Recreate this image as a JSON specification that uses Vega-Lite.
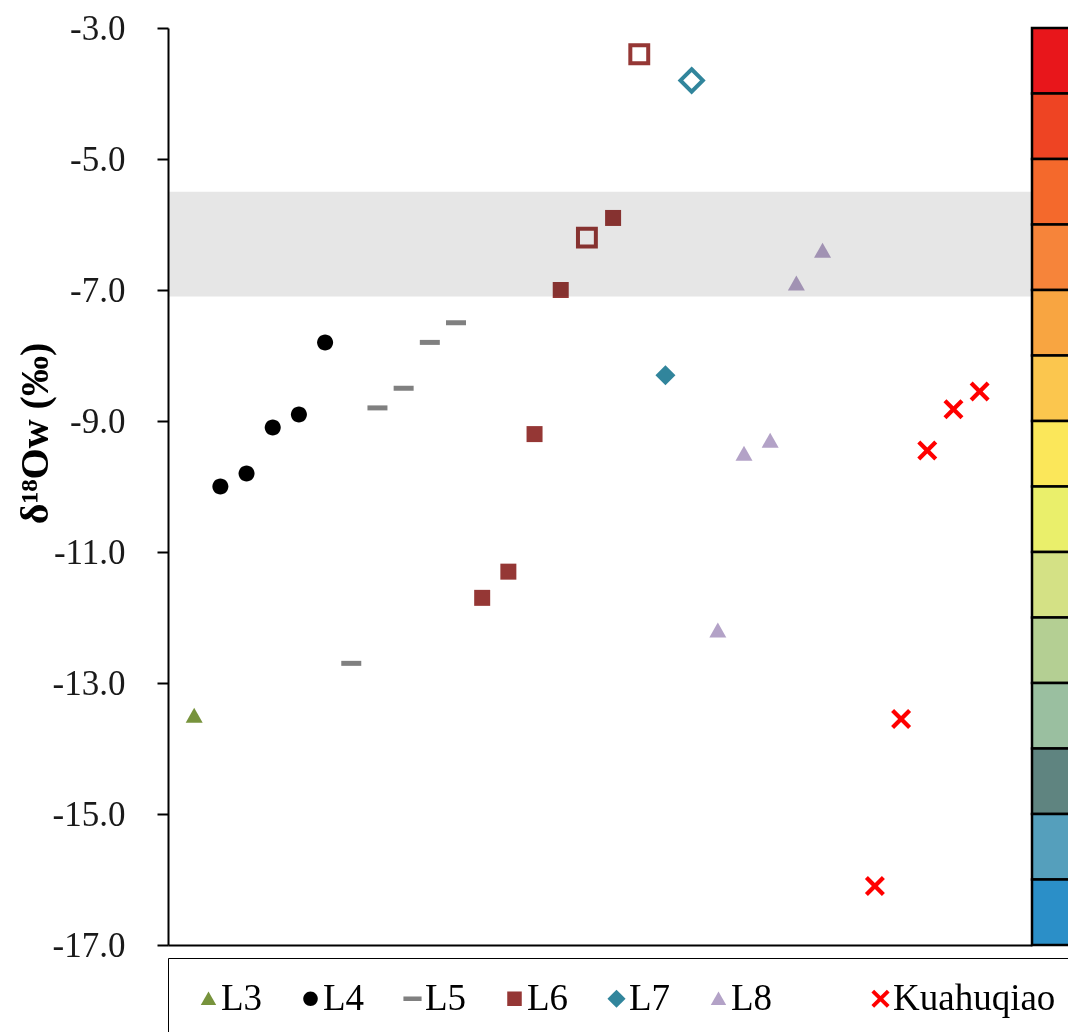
{
  "$schema": "https://vega.github.io/schema/vega-lite/v6.json",
  "autosize": {"type": "none"},
  "padding": {"left": 168, "top": 28, "right": 36, "bottom": 87},
  "width": 864,
  "height": 917,
  "background": "white",
  "config": {"view": {"stroke": null}, "font": "Liberation Serif"},
  "datasets": {
    "pts": [
      {"i": 1, "v": -13.5, "s": "L3", "hollow": false},
      {"i": 2, "v": -10.0, "s": "L4", "hollow": false},
      {"i": 3, "v": -9.8, "s": "L4", "hollow": false},
      {"i": 4, "v": -9.1, "s": "L4", "hollow": false},
      {"i": 5, "v": -8.9, "s": "L4", "hollow": false},
      {"i": 6, "v": -7.8, "s": "L4", "hollow": false},
      {"i": 7, "v": -12.7, "s": "L5", "hollow": false},
      {"i": 8, "v": -8.8, "s": "L5", "hollow": false},
      {"i": 9, "v": -8.5, "s": "L5", "hollow": false},
      {"i": 10, "v": -7.8, "s": "L5", "hollow": false},
      {"i": 11, "v": -7.5, "s": "L5", "hollow": false},
      {"i": 12, "v": -11.7, "s": "L6", "hollow": false},
      {"i": 13, "v": -11.3, "s": "L6", "hollow": false},
      {"i": 14, "v": -9.2, "s": "L6", "hollow": false},
      {"i": 15, "v": -7.0, "s": "L6", "hollow": false},
      {"i": 16, "v": -6.2, "s": "L6", "hollow": true},
      {"i": 17, "v": -5.9, "s": "L6", "hollow": false},
      {"i": 18, "v": -3.4, "s": "L6", "hollow": true},
      {"i": 19, "v": -8.3, "s": "L7", "hollow": false},
      {"i": 20, "v": -3.8, "s": "L7", "hollow": true},
      {"i": 21, "v": -12.2, "s": "L8", "hollow": false},
      {"i": 22, "v": -9.5, "s": "L8", "hollow": false},
      {"i": 23, "v": -9.3, "s": "L8", "hollow": false},
      {"i": 24, "v": -6.9, "s": "L8", "hollow": false},
      {"i": 25, "v": -6.4, "s": "L8", "hollow": false},
      {"i": 27, "v": -16.1, "s": "Kuahuqiao", "hollow": false},
      {"i": 28, "v": -13.55, "s": "Kuahuqiao", "hollow": false},
      {"i": 29, "v": -9.45, "s": "Kuahuqiao", "hollow": false},
      {"i": 30, "v": -8.82, "s": "Kuahuqiao", "hollow": false},
      {"i": 31, "v": -8.55, "s": "Kuahuqiao", "hollow": false}
    ],
    "bands": [
      {"b": 1, "top": -3, "bot": -4},
      {"b": 2, "top": -4, "bot": -5},
      {"b": 3, "top": -5, "bot": -6},
      {"b": 4, "top": -6, "bot": -7},
      {"b": 5, "top": -7, "bot": -8},
      {"b": 6, "top": -8, "bot": -9},
      {"b": 7, "top": -9, "bot": -10},
      {"b": 8, "top": -10, "bot": -11},
      {"b": 9, "top": -11, "bot": -12},
      {"b": 10, "top": -12, "bot": -13},
      {"b": 11, "top": -13, "bot": -14},
      {"b": 12, "top": -14, "bot": -15},
      {"b": 13, "top": -15, "bot": -16},
      {"b": 14, "top": -16, "bot": -17}
    ],
    "range": [{"hi": -5.5, "lo": -7.1}]
  },
  "layer": [
    {
      "data": {"name": "bands"},
      "mark": {"type": "rect", "stroke": "black", "strokeWidth": 2.5, "clip": false},
      "encoding": {
        "x": {"datum": 33, "type": "quantitative", "scale": {"domain": [0, 33], "nice": false, "zero": false}, "axis": {"labels": false, "ticks": false, "title": null, "grid": false, "domainColor": "black", "domainWidth": 2}},
        "x2": {"datum": 36},
        "y": {"field": "top", "type": "quantitative", "scale": {"domain": [-17, -3], "nice": false, "zero": false}},
        "y2": {"field": "bot"},
        "fill": {"field": "b", "type": "ordinal", "legend": null, "scale": {"range": ["#E8161B", "#EE4423", "#F4692C", "#F6843A", "#F8A541", "#FBC64E", "#FBE75A", "#EAEF6B", "#D4E185", "#B4CF93", "#9ABFA0", "#5F8480", "#559FBC", "#2B8FC8"]}}
      }
    },
    {
      "data": {"name": "pts"},
      "transform": [{"filter": "!datum.hollow"}],
      "mark": {"type": "point", "filled": true, "opacity": 1, "size": 400, "strokeWidth": 0},
      "encoding": {
        "x": {"field": "i", "type": "quantitative", "scale": {"domain": [0, 33], "nice": false, "zero": false}},
        "y": {"field": "v", "type": "quantitative", "scale": {"domain": [-17, -3], "nice": false, "zero": false},
          "axis": {"values": [-3, -5, -7, -9, -11, -13, -15, -17], "labelExpr": "replace(format(datum.value, '.1f'), '\u2212', '-')", "labelFont": "Liberation Serif", "labelFontSize": 35, "labelColor": "#1a1a1a", "labelPadding": 32, "tickSize": 11, "tickColor": "black", "tickWidth": 2, "domainColor": "black", "domainWidth": 2, "grid": false,
            "title": "δ¹⁸Oᴡ (‰)", "titleFont": "Liberation Serif", "titleFontSize": 40, "titleFontWeight": "bold", "titleColor": "black", "titleX": -133, "titleY": 405, "titleAngle": -90, "titleAlign": "center", "titleBaseline": "middle"}},
        "color": {"field": "s", "type": "nominal",
          "scale": {"domain": ["L3", "L4", "L5", "L6", "L7", "L8", "gap", "Kuahuqiao"], "range": ["#77933C", "#000000", "#808080", "#953735", "#31859C", "#B3A2C7", "rgba(0,0,0,0)", "#FF0000"]},
          "legend": {"orient": "none", "legendX": 0, "legendY": 930, "direction": "horizontal", "columns": 8, "title": null,
            "labelExpr": "datum.value === 'gap' ? '' : datum.label",
            "strokeColor": "black", "padding": 22, "symbolSize": 330, "symbolStrokeWidth": 0, "labelFont": "Liberation Serif", "labelFontSize": 37, "labelColor": "black", "labelOffset": -6, "labelLimit": 400, "columnPadding": 29}},
        "shape": {"field": "s", "type": "nominal",
          "scale": {"domain": ["L3", "L4", "L5", "L6", "L7", "L8", "gap", "Kuahuqiao"], "range": [
            "M0,-0.8L0.85,0.7L-0.85,0.7Z",
            "M0.8,0A0.8,0.8 0 1,1 -0.8,0A0.8,0.8 0 1,1 0.8,0Z",
            "M-1,-0.25L1,-0.25L1,0.25L-1,0.25Z",
            "M-0.8,-0.8L0.8,-0.8L0.8,0.8L-0.8,0.8Z",
            "M0,-1L1,0L0,1L-1,0Z",
            "M0,-0.8L0.85,0.7L-0.85,0.7Z",
            "M0,0L0,0Z",
            "M0,-0.3L0.7,-1L1,-0.7L0.3,0L1,0.7L0.7,1L0,0.3L-0.7,1L-1,0.7L-0.3,0L-1,-0.7L-0.7,-1Z"
          ]}}
      }
    },
    {
      "data": {"name": "pts"},
      "transform": [{"filter": "datum.hollow"}],
      "mark": {"type": "point", "filled": false, "opacity": 1, "size": 500, "strokeWidth": 4},
      "encoding": {
        "x": {"field": "i", "type": "quantitative", "scale": {"domain": [0, 33], "nice": false, "zero": false}},
        "y": {"field": "v", "type": "quantitative", "scale": {"domain": [-17, -3], "nice": false, "zero": false}},
        "color": {"field": "s", "type": "nominal"},
        "shape": {"field": "s", "type": "nominal"}
      }
    },
    {
      "data": {"name": "range"},
      "mark": {"type": "rect", "color": "#E6E6E6", "blend": "multiply"},
      "encoding": {
        "x": {"datum": 0, "type": "quantitative", "scale": {"domain": [0, 33], "nice": false, "zero": false}},
        "x2": {"datum": 33},
        "y": {"field": "hi", "type": "quantitative", "scale": {"domain": [-17, -3], "nice": false, "zero": false}},
        "y2": {"field": "lo"}
      }
    }
  ]
}
